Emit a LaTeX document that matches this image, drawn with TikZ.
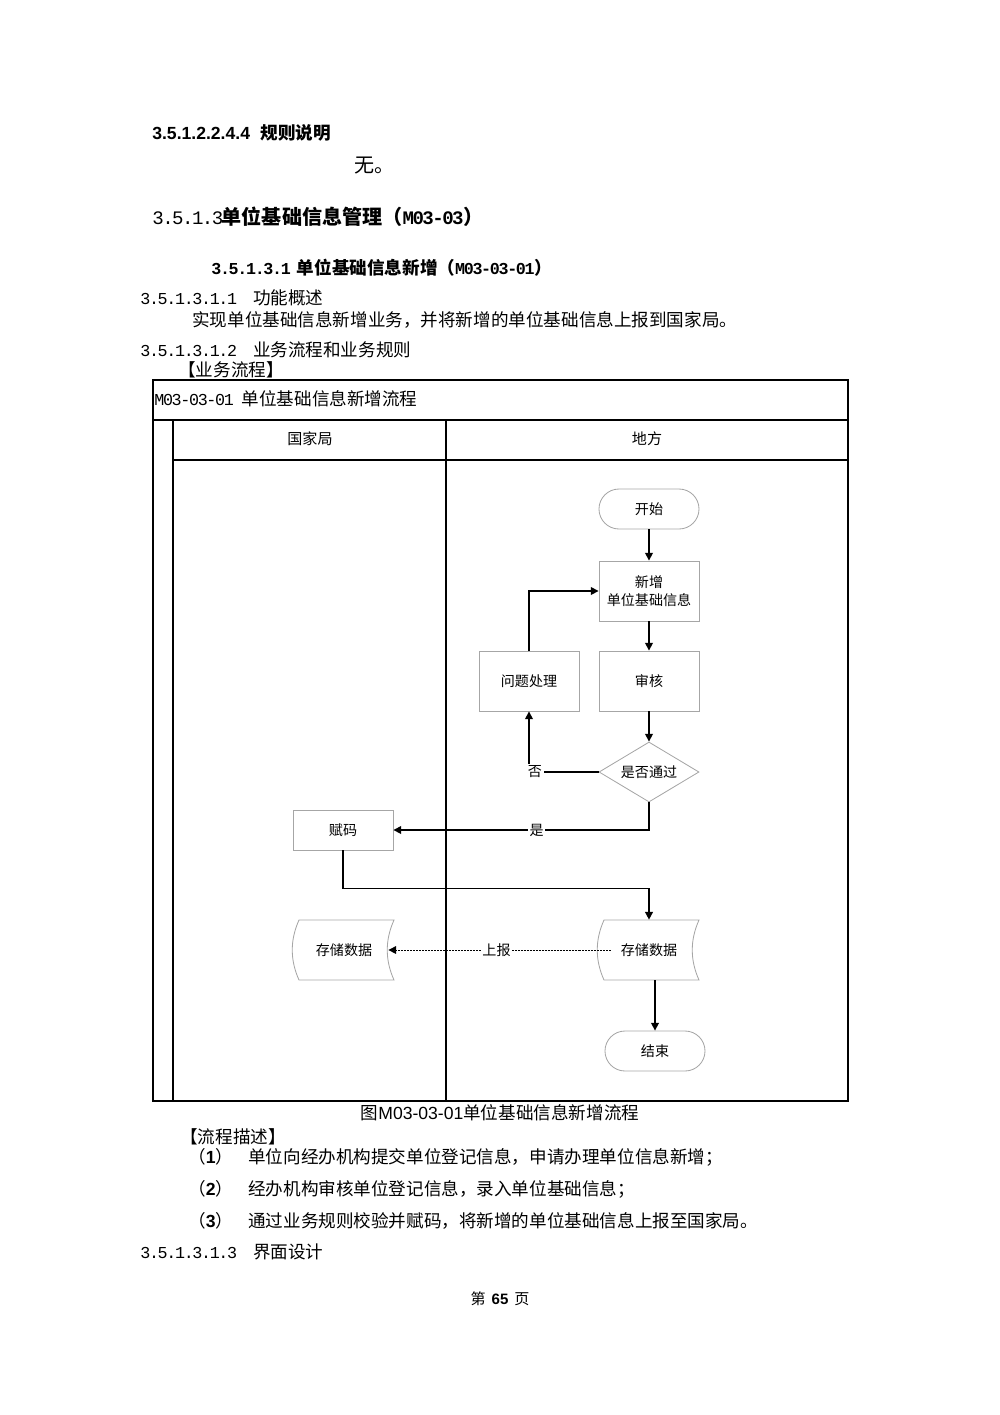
\documentclass[tikz,border=0pt]{standalone}
\usepackage{fontspec}
\setmainfont{Noto Sans CJK SC}
\newfontfamily\mono[Scale=0.95,LetterSpace=-8]{Liberation Mono}
\newfontfamily\arial{Liberation Sans}
\usetikzlibrary{shapes.geometric,arrows.meta}
\newcommand\wuhao{\fontsize{10.5pt}{12pt}\selectfont}
\newcommand\xiaosi{\fontsize{12pt}{14pt}\selectfont}
\newcommand\boxfont{\fontsize{8.4pt}{11pt}\selectfont}
\begin{document}
\begin{tikzpicture}[x=0.021cm,y=-0.021cm,
  txt/.style={anchor=west,inner sep=0pt},
  box/.style={draw=gray!70,line width=0.5pt,minimum width=2.1cm,minimum height=1.26cm,font=\boxfont,align=center},
  term/.style={box,minimum height=0.84cm,rounded corners=0.42cm},
  dec/.style={box,diamond,aspect=1.667,inner sep=0pt},
  store/.style={minimum width=1.85cm,minimum height=1.26cm,font=\boxfont},
  arr/.style={-{Triangle[length=4.6pt,width=4.6pt]},line width=0.9pt},
  lbl/.style={fill=white,inner sep=1pt,font=\boxfont},
  frame/.style={line width=0.9pt}]
\useasboundingbox (0,0) rectangle (1000,1415);
% texte de la page
\node[txt,font=\wuhao\bfseries] (h1) at (152,133) {{\arial 3.5.1.2.2.4.4}\hspace{0.6em}规则说明};
\node[txt,font=\xiaosi] (wu) at (354,166) {无。};
\node[txt,font=\xiaosi] (h2) at (152,217) {{\mono 3.5.1.3}\textbf{单位基础信息管理（{\mono\bfseries M03-03}）}};
\node[txt,font=\wuhao\bfseries] (h3) at (211,268) {{\mono 3.5.1.3.1}\hspace{0.35em}单位基础信息新增（{\mono M03-03-01}）};
\node[txt,font=\wuhao] (h4) at (140,298) {{\mono 3.5.1.3.1.1}\hspace{0.9em}功能概述};
\node[txt,font=\wuhao] (p1) at (192,320) {实现单位基础信息新增业务，并将新增的单位基础信息上报到国家局。};
\node[txt,font=\wuhao] (h5) at (140,350) {{\mono 3.5.1.3.1.2}\hspace{0.9em}业务流程和业务规则};
\node[txt,font=\wuhao] (p2) at (178,370) {【业务流程】};
% cadre
\draw[frame] (153,380) rectangle (848,1101);
\draw[frame] (153,420) -- (848,420);
\draw[frame] (173,460) -- (848,460);
\foreach \x in {173,446}
  \draw[frame] (\x,420) -- (\x,1101);
\node[txt,font=\wuhao] (titre) at (154,399) {{\mono M03-03-01}\hspace{0.45em}单位基础信息新增流程};
\node[font=\fontsize{9pt}{10pt}\selectfont] (gjj) at (310,439) {国家局};
\node[font=\fontsize{9pt}{10pt}\selectfont] (df) at (647,439) {地方};
% noeuds
\node[term] (debut) at (649,509) {开始};
\node[box] (ajout) at (649,591) {新增\\单位基础信息};
\node[box] (audit) at (649,681) {审核};
\node[box] (pb) at (529,681) {问题处理};
\node[dec,minimum width=2.1cm,minimum height=1.26cm] (ok) at (649,772) {是否通过};
\node[box,minimum height=0.84cm] (code) at (343,830) {赋码};
\node[store] (s1) at (344,950) {存储数据};
\node[store] (s2) at (649,950) {存储数据};
\node[term] (fin) at (655,1051) {结束};
\foreach \s in {s1,s2}
  \draw[draw=gray!70,line width=0.5pt] (\s.center) ++(-45,-30) .. controls +(-9,20) and +(-9,-20) .. ++(0,60)
    -- ++(95,0) .. controls +(-9,-20) and +(-9,20) .. ++(0,-60) -- cycle;
% fleches
\draw[arr] (debut) -- (ajout);
\draw[arr] (ajout) -- (audit);
\draw[arr] (audit) -- (ok);
\draw[arr] (ok.west) -| node[lbl,pos=0.5,xshift=3.5pt]{否} (pb.south);
\draw[arr] (pb.north) |- (ajout.west);
\draw[arr] (ok.south) |- node[lbl,pos=0.72]{是} (code.east);
\draw[arr] (code.south) -- ++(0,38) -| (s2.north);
\draw[-{Triangle[length=4.6pt,width=4.6pt]},line width=0.6pt,dash pattern=on 1.2pt off 0.6pt,shorten <=-3.6pt]
  (s2.west) -- node[lbl]{上报} (s1.east);
\draw[arr] (fin.north |- s2.south) -- (fin.north);
% suite
\node[font=\wuhao] (cap) at (500,1113) {图{\arial M03-03-01}单位基础信息新增流程};
\node[txt,font=\wuhao] (p3) at (180,1137) {【流程描述】};
\foreach \n/\y/\t in {1/1157/单位向经办机构提交单位登记信息，申请办理单位信息新增；,
    2/1189/经办机构审核单位登记信息，录入单位基础信息；,
    3/1221/通过业务规则校验并赋码，将新增的单位基础信息上报至国家局。} {
  \node[txt,font=\wuhao] (n\n) at (188,\y) {（{\arial\bfseries \n}）};
  \node[txt,font=\wuhao] (d\n) at (248,\y) {\t};
}
\node[txt,font=\wuhao] (h6) at (140,1252) {{\mono 3.5.1.3.1.3}\hspace{0.9em}界面设计};
\node[font=\fontsize{9pt}{10pt}\selectfont] (page) at (500,1299) {第\hspace{0.4em}{\arial\bfseries 65}\hspace{0.4em}页};
\end{tikzpicture}
\end{document}
